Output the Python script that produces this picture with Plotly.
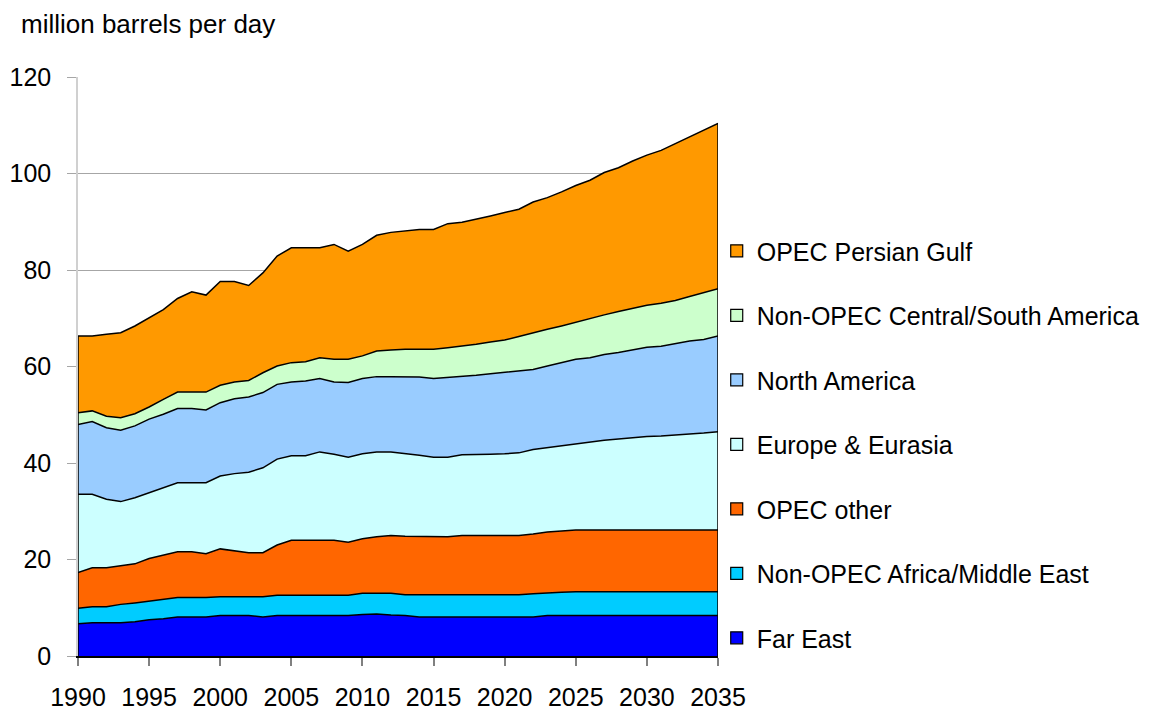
import plotly.graph_objects as go

years = list(range(1990, 2036))

far_east = [6.7, 6.9, 6.9, 6.9, 7.1, 7.5, 7.7, 8.1, 8.1, 8.1,
            8.4, 8.4, 8.4, 8.1, 8.4, 8.4, 8.4, 8.4, 8.4, 8.4,
            8.6, 8.7, 8.5, 8.4, 8.1, 8.1, 8.1, 8.1, 8.1, 8.1,
            8.1, 8.1, 8.1, 8.4, 8.4, 8.4, 8.4, 8.4, 8.4, 8.4,
            8.4, 8.4, 8.4, 8.4, 8.4, 8.4]
non_opec_africa_me = [3.2, 3.3, 3.3, 3.8, 3.9, 3.9, 4.0, 4.0, 4.0, 4.0,
                      3.9, 3.9, 3.9, 4.2, 4.2, 4.2, 4.2, 4.2, 4.2, 4.2,
                      4.4, 4.3, 4.5, 4.3, 4.6, 4.6, 4.6, 4.6, 4.6, 4.6,
                      4.6, 4.6, 4.8, 4.7, 4.8, 4.9, 4.9, 4.9, 4.9, 4.9,
                      4.9, 4.9, 4.9, 4.9, 4.9, 4.9]
opec_other = [7.4, 8.1, 8.1, 8.0, 8.1, 8.8, 9.2, 9.5, 9.5, 9.1,
              9.9, 9.5, 9.1, 9.1, 10.4, 11.4, 11.4, 11.4, 11.4, 11.0,
              11.3, 11.7, 12.0, 12.1, 12.1, 12.0, 12.0, 12.3, 12.3, 12.3,
              12.3, 12.3, 12.4, 12.6, 12.7, 12.8, 12.8, 12.8, 12.8, 12.8,
              12.8, 12.8, 12.8, 12.8, 12.8, 12.8]
europe_eurasia = [16.2, 15.2, 14.2, 13.3, 13.7, 13.6, 14.0, 14.3, 14.3, 14.7,
                  15.1, 16.0, 16.7, 17.6, 17.8, 17.5, 17.5, 18.3, 17.8, 17.6,
                  17.6, 17.6, 17.3, 17.2, 16.8, 16.5, 16.5, 16.7, 16.7, 16.8,
                  16.9, 17.1, 17.5, 17.5, 17.7, 17.9, 18.3, 18.6, 18.9, 19.2,
                  19.4, 19.5, 19.7, 19.8, 20.1, 20.4]
north_america = [14.5, 15.1, 14.8, 14.8, 14.9, 15.3, 15.2, 15.4, 15.4, 15.1,
                 15.2, 15.5, 15.6, 15.6, 15.5, 15.3, 15.5, 15.2, 15.0, 15.5,
                 15.6, 15.6, 15.6, 15.9, 16.2, 16.3, 16.5, 16.2, 16.5, 16.7,
                 16.9, 16.9, 16.6, 16.9, 17.2, 17.5, 17.4, 17.8, 17.9, 18.1,
                 18.5, 18.6, 18.9, 19.4, 19.4, 19.8]
non_opec_csa = [2.4, 2.2, 2.4, 2.6, 2.5, 2.5, 3.1, 3.4, 3.4, 3.7,
                3.6, 3.5, 3.4, 4.1, 3.8, 4.0, 4.0, 4.3, 4.7, 4.8,
                4.7, 5.3, 5.5, 5.7, 5.8, 6.1, 6.2, 6.3, 6.4, 6.6,
                6.7, 7.2, 7.6, 7.6, 7.6, 7.7, 8.2, 8.2, 8.5, 8.6,
                8.7, 8.9, 9.0, 9.2, 9.7, 9.8]
opec_persian_gulf = [15.9, 15.5, 17.0, 17.6, 18.2, 18.5, 18.6, 19.4, 20.8, 20.1,
                     21.5, 20.8, 19.7, 20.7, 22.8, 23.8, 23.6, 22.8, 23.8, 22.4,
                     23.1, 24.0, 24.4, 24.5, 24.8, 24.8, 25.7, 25.7, 25.9, 26.1,
                     26.4, 26.4, 27.1, 27.3, 27.8, 28.3, 28.6, 29.5, 29.8, 30.6,
                     31.1, 31.7, 32.5, 33.1, 33.7, 34.3]

series_names = ["Far East", "Non-OPEC Africa/Middle East", "OPEC other",
                "Europe & Eurasia", "North America",
                "Non-OPEC Central/South America", "OPEC Persian Gulf"]
series_values = [far_east, non_opec_africa_me, opec_other, europe_eurasia,
                 north_america, non_opec_csa, opec_persian_gulf]
series_colors = ["#0000FF", "#00CCFF", "#FF6600", "#CCFFFF",
                 "#99CCFF", "#CCFFCC", "#FF9900"]

x_ticks = [1990, 1995, 2000, 2005, 2010, 2015, 2020, 2025, 2030, 2035]
y_ticks = [0, 20, 40, 60, 80, 100, 120]

FONT = "Arial, 'Liberation Sans', sans-serif"

fig = go.Figure()

for name, vals, col in zip(series_names, series_values, series_colors):
    fig.add_trace(go.Scatter(
        x=years, y=vals, name=name, mode="lines", stackgroup="one",
        line=dict(color="black", width=1.5), fillcolor=col,
        showlegend=False, hoverinfo="x+y+name"))

# vertical outline edges of the stacked area at both ends
first_total = sum(v[0] for v in series_values)
last_total = sum(v[-1] for v in series_values)
for xe, te in [(years[0], first_total), (years[-1], last_total)]:
    fig.add_trace(go.Scatter(x=[xe, xe], y=[0, te], mode="lines",
                             line=dict(color="black", width=1.5),
                             showlegend=False, hoverinfo="skip"))

# legend entries (top to bottom as in reference)
for i, (name, col) in enumerate(reversed(list(zip(series_names, series_colors)))):
    fig.add_trace(go.Scatter(
        x=[None], y=[None], mode="markers", name=name,
        legendgroup="g%d" % i,
        marker=dict(symbol="square", size=12, color=col,
                    line=dict(color="black", width=1.2))))

# the page body adds an 8px offset; size the figure so it fills the window
W, H = 1141, 703
fig.update_layout(
    width=W, height=H,
    margin=dict(l=70, r=431, t=69, b=55, autoexpand=False),
    paper_bgcolor="white", plot_bgcolor="white",
    font=dict(family=FONT, size=25, color="black"),
    title=dict(text="million barrels per day", x=13 / W, xref="container",
               xanchor="left", y=1 - 16 / H, yref="container", yanchor="middle",
               font=dict(family=FONT, size=26, color="black")),
    legend=dict(x=0.998, xanchor="left", y=0.739, yanchor="top",
                traceorder="grouped", tracegroupgap=29,
                font=dict(family=FONT, size=25, color="black"),
                bgcolor="rgba(0,0,0,0)", borderwidth=0),
    showlegend=True,
)

fig.update_xaxes(
    range=[1990, 2035], tickvals=x_ticks, ticktext=[str(t) for t in x_ticks],
    showgrid=False, zeroline=False, automargin=False,
    showline=True, linecolor="black", linewidth=1.5,
    ticks="outside", ticklen=8, tickwidth=1.5, tickcolor="#808080",
    ticklabelstandoff=10,
    tickfont=dict(family=FONT, size=25, color="black"),
)
fig.update_yaxes(
    range=[0, 120], tickvals=y_ticks,
    showgrid=True, gridcolor="#a6a6a6", gridwidth=1.2,
    zeroline=False, automargin=False,
    showline=True, linecolor="#d0d0d0", linewidth=1.5,
    ticks="outside", ticklen=9, tickwidth=1.2, tickcolor="#a6a6a6",
    ticklabelstandoff=11,
    tickfont=dict(family=FONT, size=25, color="black"),
)

fig.write_html("out.html")
